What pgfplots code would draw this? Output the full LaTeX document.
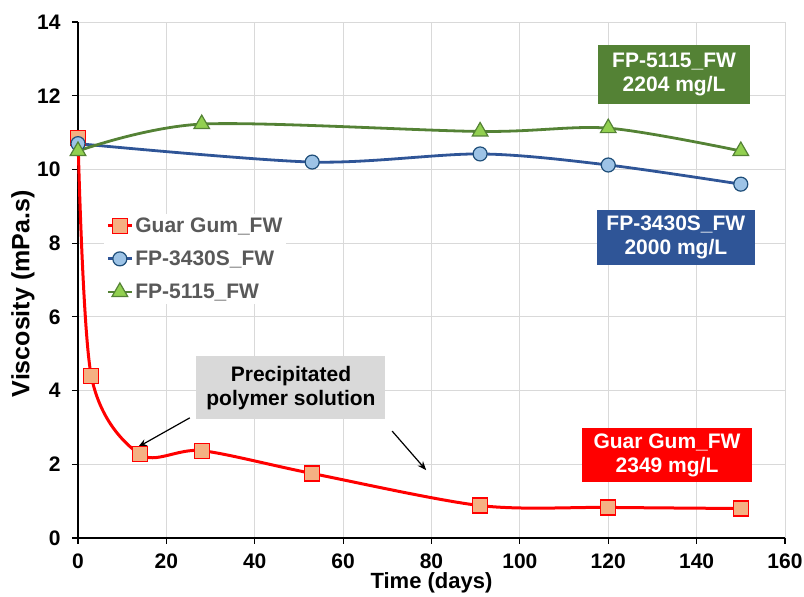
\documentclass[border=0pt]{standalone}
\usepackage{pgfplots}
\pgfplotsset{compat=1.18}
\usepackage{fontspec}
\setmainfont{Liberation Sans}
\usetikzlibrary{arrows.meta}
\definecolor{gred}{HTML}{FF0000}
\definecolor{gfill}{HTML}{F4B183}
\definecolor{bline}{HTML}{2F5597}
\definecolor{bfill}{HTML}{9DC3E6}
\definecolor{bedge}{HTML}{1F4E79}
\definecolor{gline}{HTML}{548235}
\definecolor{gmfill}{HTML}{92D050}
\definecolor{legtxt}{HTML}{595959}
\definecolor{gridc}{HTML}{D9D9D9}
\definecolor{boxgray}{HTML}{D9D9D9}
\begin{document}
\begin{tikzpicture}
\useasboundingbox (-78pt,-59pt) rectangle (726pt,538pt);
\begin{axis}[
  at={(0,0)}, anchor=south west,
  width=707pt, height=516pt, scale only axis,
  xmin=0, xmax=160, ymin=0, ymax=14,
  xtick={0,20,...,160}, ytick={0,2,...,14},
  axis x line*=bottom, axis y line*=left,
  axis line style={black, line width=1.2pt},
  tick style={black, line width=1.2pt},
  major tick length=6pt,
  tick align=outside,
  grid=major,
  grid style={gridc, line width=0.8pt},
  /pgf/number format/assume math mode=true,
  tick label style={font=\fontsize{21}{23}\selectfont\bfseries},
  xticklabel style={yshift=-6pt},
  yticklabel style={xshift=-8pt},
  xlabel={Time (days)},
  ylabel={Viscosity (mPa.s)},
  xlabel style={font=\fontsize{22}{25}\selectfont\bfseries, inner sep=0pt, at={(axis description cs:0.5,-0.0872)}, anchor=center},
  ylabel style={font=\fontsize{25}{28}\selectfont\bfseries, at={(axis description cs:-0.0778,0.473)}, anchor=center},
  clip=false,
  legend style={at={(rel axis cs:0.037,0.629)}, anchor=north west,
    draw=none, fill=white, text=legtxt,
    font=\fontsize{21}{23}\selectfont\bfseries,
    row sep=13pt, inner sep=2pt},
  legend cell align=left,
  legend image code/.code={\draw[mark repeat=2,mark phase=2] plot coordinates {(0pt,0pt) (12pt,0pt) (24pt,0pt)};},
]
\addplot[gred, line width=3pt, smooth, tension=0.5, mark=square*,
  mark size=7.5pt, mark options={fill=gfill, draw=gred, line width=1.2pt}]
  coordinates {(0,10.85) (3,4.4) (14,2.27) (28,2.37) (53,1.75) (91,0.88) (120,0.83) (150,0.80)};
\addlegendentry{Guar Gum\_FW}
\addplot[bline, line width=2.8pt, smooth, tension=0.5, mark=*,
  mark size=7pt, mark options={fill=bfill, draw=bedge, line width=1.2pt}]
  coordinates {(0,10.7) (53,10.2) (91,10.42) (120,10.12) (150,9.6)};
\addlegendentry{FP-3430S\_FW}
\addplot[gline, line width=2.8pt, smooth, tension=0.5, mark=triangle*,
  mark size=9pt, mark options={fill=gmfill, draw=gline, line width=1.2pt}]
  coordinates {(0,10.5) (28,11.23) (91,11.03) (120,11.12) (150,10.5)};
\addlegendentry{FP-5115\_FW}

\node[fill=gline, text=white, font=\fontsize{21}{24}\selectfont\bfseries, align=center,
  minimum width=152pt, minimum height=59pt, inner sep=0pt] at (axis cs:134.9,12.58) {FP-5115\_FW\\2204 mg/L};
\node[fill=bline, text=white, font=\fontsize{21}{24}\selectfont\bfseries, align=center,
  minimum width=158pt, minimum height=55pt, inner sep=0pt] at (axis cs:135.3,8.15) {FP-3430S\_FW\\2000 mg/L};
\node[fill=gred, text=white, font=\fontsize{21}{24}\selectfont\bfseries, align=center,
  minimum width=170pt, minimum height=54pt, inner sep=0pt] at (axis cs:133.3,2.25) {Guar Gum\_FW\\2349 mg/L};
\node[fill=boxgray, text=black, font=\fontsize{21}{24}\selectfont\bfseries, align=center,
  minimum width=189pt, minimum height=63pt, inner sep=0pt] at (axis cs:48.2,4.07) {Precipitated\\polymer solution};
\draw[black, line width=1.2pt, -{Stealth[length=9pt,width=7pt]}] (axis cs:25.3,3.26) -- (axis cs:13.6,2.47);
\draw[black, line width=1.2pt, -{Stealth[length=9pt,width=7pt]}] (axis cs:71.1,2.90) -- (axis cs:78.8,1.84);
\end{axis}
\end{tikzpicture}
\end{document}
